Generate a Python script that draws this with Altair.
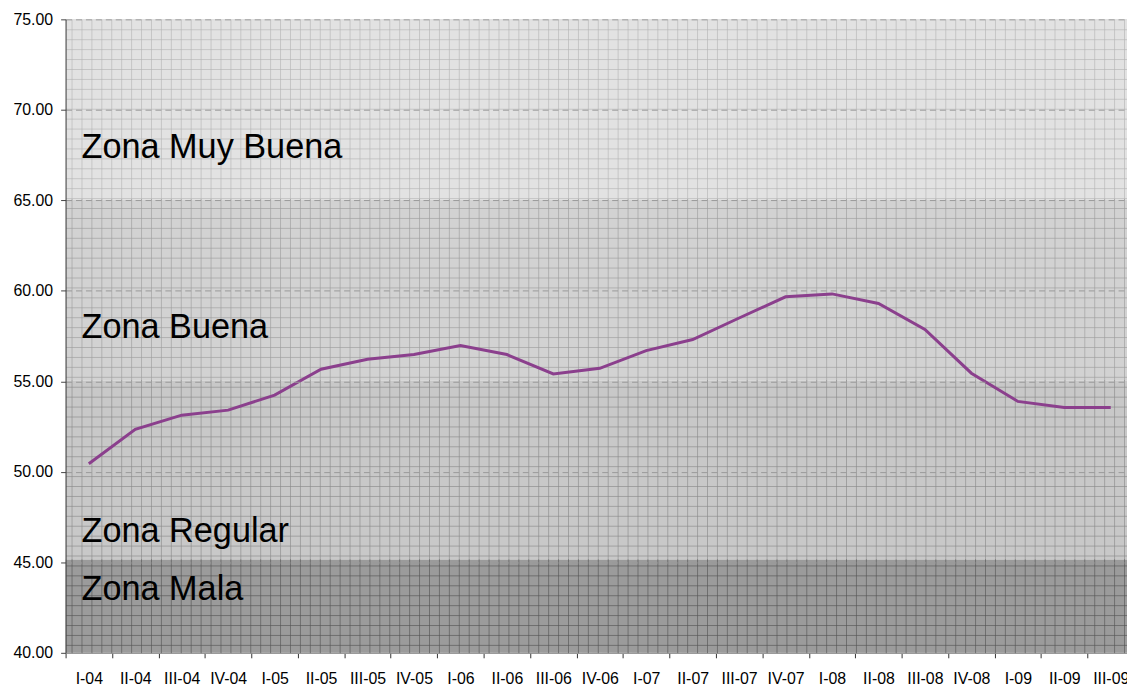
import altair as alt
import pandas as pd

# ---- data ----
quarters = ["I-04", "II-04", "III-04", "IV-04", "I-05", "II-05", "III-05", "IV-05",
            "I-06", "II-06", "III-06", "IV-06", "I-07", "II-07", "III-07", "IV-07",
            "I-08", "II-08", "III-08", "IV-08", "I-09", "II-09", "III-09"]
values = [50.45, 52.35, 53.13, 53.41, 54.24, 55.67, 56.22, 56.48,
          56.98, 56.48, 55.41, 55.72, 56.70, 57.31, 58.50, 59.67,
          59.83, 59.30, 57.87, 55.45, 53.89, 53.56, 53.56]

zone_names = ["Zona Mala", "Zona Regular", "Zona Buena", "Zona Muy Buena"]
zone_low = [40.0, 45.15, 55.05, 65.05]
zone_high = [45.15, 55.05, 65.05, 75.0]
zone_label_y = [43.45, 46.69, 57.96, 67.89]

y_ticks = [40, 45, 50, 55, 60, 65, 70, 75]

# ---- layout / style ----
W, H = 1069, 638
FULL_W = 1076
FONT = "Liberation Sans"
zone_colors = ["#757575", "#b6b6b6", "#c6c6c6", "#dcdcdc"]
zone_opac = [0.725, 0.824, 0.847, 0.89]

line_df = pd.DataFrame({"quarter": quarters, "value": values})
zone_df = pd.DataFrame({"zone": zone_names, "lo": zone_low, "hi": zone_high,
                        "ly": zone_label_y})
dummy = pd.DataFrame({"gx": [0], "gy": [0]})

yscale = alt.Scale(domain=[40, 75], nice=False, zero=False)

# fine grid pattern (drawn behind translucent zone rectangles)
grid = alt.Chart(dummy).mark_point(opacity=0).encode(
    x=alt.X("gx:Q", scale=alt.Scale(domain=[0, W], nice=False, zero=False),
            axis=alt.Axis(orient="top", values=list(range(6, W, 10)), grid=True,
                          gridColor="black", gridOpacity=0.65, gridWidth=1,
                          labels=False, ticks=False, domain=False, title=None)),
    y=alt.Y("gy:Q", scale=alt.Scale(domain=[0, H], nice=False, zero=False, reverse=True),
            axis=alt.Axis(orient="right", values=list(range(10, H, 10)), grid=True,
                          gridColor="black", gridOpacity=0.65, gridWidth=1,
                          labels=False, ticks=False, domain=False, title=None)),
)

bands = alt.Chart(zone_df).mark_rect().encode(
    x=alt.value(0),
    x2=alt.value(FULL_W),
    y=alt.Y("lo:Q", scale=yscale),
    y2="hi:Q",
    color=alt.Color("zone:N", scale=alt.Scale(domain=zone_names, range=zone_colors),
                    legend=None),
    opacity=alt.Opacity("zone:N", scale=alt.Scale(domain=zone_names, range=zone_opac),
                        legend=None),
)

line = alt.Chart(line_df).mark_line(color="#8b3f8d", strokeWidth=3).encode(
    x=alt.X("quarter:N", sort=quarters,
            scale=alt.Scale(range=[0, FULL_W], paddingInner=0, paddingOuter=0),
            axis=alt.Axis(orient="bottom", title=None, labelAngle=0, tickBand="extent",
                          labelFont=FONT, labelFontSize=16, labelColor="black",
                          labelPadding=13, tickSize=5, tickColor="#333333",
                          domainColor="#888888", labelOverlap=False, labelBound=False,
                          grid=False)),
    y=alt.Y("value:Q", scale=yscale,
            axis=alt.Axis(orient="left", title=None, values=y_ticks, format=".2f",
                          labelFont=FONT, labelFontSize=16, labelColor="black",
                          labelPadding=8, tickSize=5, tickColor="#444444",
                          domainColor="#444444", grid=True, gridColor="#9a9a9a",
                          gridDash=[6, 4], gridWidth=1, zindex=1)),
)

labels = alt.Chart(zone_df).mark_text(align="left", baseline="middle", font=FONT,
                                      fontSize=34.5, color="black").encode(
    x=alt.value(16),
    y=alt.Y("ly:Q", scale=yscale),
    text="zone:N",
)

inner = alt.layer(bands, line, labels)

chart = alt.layer(inner, grid).resolve_scale(
    x="independent", y="independent"
).properties(
    width=W, height=H,
    autosize=alt.AutoSizeParams(type="none"),
    padding={"left": 58, "top": 9, "right": 0, "bottom": 33},
).configure_view(stroke=None).configure(background="white")

chart.save("out.html", embed_options={"renderer": "svg", "actions": False})
